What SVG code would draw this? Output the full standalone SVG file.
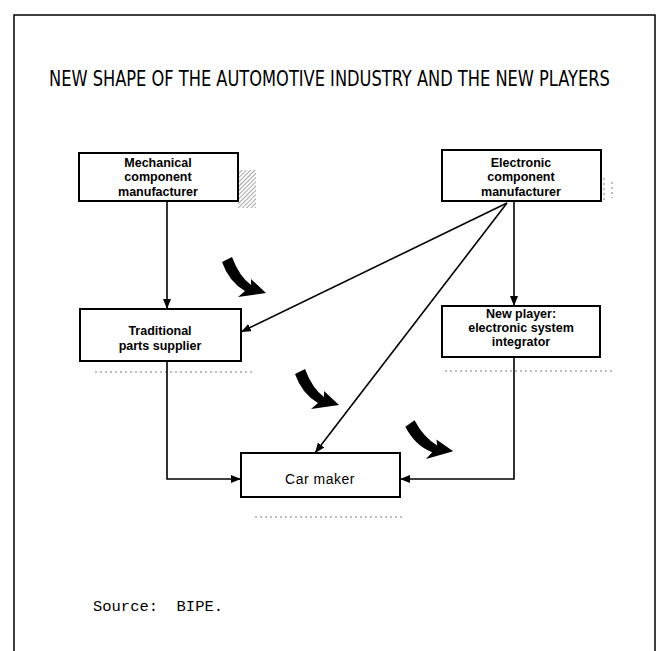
<svg xmlns="http://www.w3.org/2000/svg" width="664" height="651" viewBox="0 0 664 651">
<style>
.box{fill:#fff;stroke:#000;stroke-width:2}
.lbl{font-family:"Liberation Sans",Arial,sans-serif;font-size:12.5px;font-weight:bold;text-anchor:middle;fill:#000}
.con{fill:none;stroke:#000;stroke-width:1.6}
.swoosh{fill:#000}
.dots{stroke:#aaa;stroke-width:1.5;stroke-dasharray:2 3;fill:none}
</style>
<defs>
<marker id="ah" viewBox="0 0 10 8" refX="10" refY="4" markerWidth="10" markerHeight="8" markerUnits="userSpaceOnUse" orient="auto">
<path d="M0,0 L10,4 L0,8 Z" fill="#000"/>
</marker>
<pattern id="hatch" width="3" height="3" patternUnits="userSpaceOnUse" patternTransform="rotate(45)">
<rect width="3" height="3" fill="#fff"/>
<line x1="0" y1="0" x2="0" y2="3" stroke="#888" stroke-width="1.5"/>
</pattern>
<path id="sw" d="M-5,2 L5,-3 Q12,16 24,25 L24,19 L39,33 L11,37 L18,31 Q2,22 -5,2 Z"/>
</defs>
<rect width="664" height="651" fill="#fff"/>
<path d="M14,651 L14,15 L655,15 L655,651" fill="none" stroke="#000" stroke-width="1.5"/>
<text transform="translate(49,86) scale(0.78,1)" x="0" y="0" font-family="'DejaVu Sans Condensed','Liberation Sans Narrow',sans-serif" font-size="22" textLength="719" lengthAdjust="spacingAndGlyphs">NEW SHAPE OF THE AUTOMOTIVE INDUSTRY AND THE NEW PLAYERS</text>

<g id="shadows">
<rect x="238" y="170" width="18" height="38" fill="url(#hatch)"/>
<path class="dots" d="M604,178 L604,200 M612,182 L612,198"/>
<path class="dots" d="M95,372 L253,372"/>
<path class="dots" d="M445,371 L612,371"/>
<path class="dots" d="M255,517 L405,517"/>
</g>

<g id="connectors">
<line class="con" x1="167" y1="201" x2="167" y2="309" marker-end="url(#ah)"/>
<line class="con" x1="514" y1="201" x2="514" y2="306" marker-end="url(#ah)"/>
<line class="con" x1="507" y1="203" x2="241" y2="332" marker-end="url(#ah)"/>
<line class="con" x1="507" y1="203" x2="315" y2="453" marker-end="url(#ah)"/>
<polyline class="con" points="167,361 167,479 241,479" marker-end="url(#ah)"/>
<polyline class="con" points="514,357 514,479 400,479" marker-end="url(#ah)"/>
</g>

<g id="arrows">
<use href="#sw" class="swoosh" transform="translate(227,260)"/>
<use href="#sw" class="swoosh" transform="translate(300,372)"/>
<use href="#sw" class="swoosh" transform="translate(410,424) rotate(-8)"/>
</g>

<g id="mechanical">
<rect class="box" x="79" y="153" width="159" height="48"/>
<text class="lbl" x="158" y="167">Mechanical</text>
<text class="lbl" x="158" y="181">component</text>
<text class="lbl" x="158" y="196">manufacturer</text>
</g>
<g id="electronic">
<rect class="box" x="442" y="150" width="159" height="51"/>
<text class="lbl" x="521" y="167">Electronic</text>
<text class="lbl" x="521" y="181">component</text>
<text class="lbl" x="521" y="196">manufacturer</text>
</g>
<g id="traditional">
<rect class="box" x="80" y="309" width="161" height="52"/>
<text class="lbl" x="160" y="335">Traditional</text>
<text class="lbl" x="160" y="350">parts supplier</text>
</g>
<g id="newplayer">
<rect class="box" x="442" y="306" width="158" height="51"/>
<text class="lbl" x="521" y="318">New player:</text>
<text class="lbl" x="521" y="332">electronic system</text>
<text class="lbl" x="521" y="346">integrator</text>
</g>
<g id="carmaker">
<rect class="box" x="241" y="453" width="159" height="44"/>
<text class="lbl" x="320" y="484" style="font-size:14px;font-weight:normal;letter-spacing:0.5px">Car maker</text>
</g>

<text x="93" y="611" font-family="'Liberation Mono','DejaVu Sans Mono',monospace" font-size="15" textLength="130" lengthAdjust="spacingAndGlyphs" xml:space="preserve">Source:  BIPE.</text>
</svg>
